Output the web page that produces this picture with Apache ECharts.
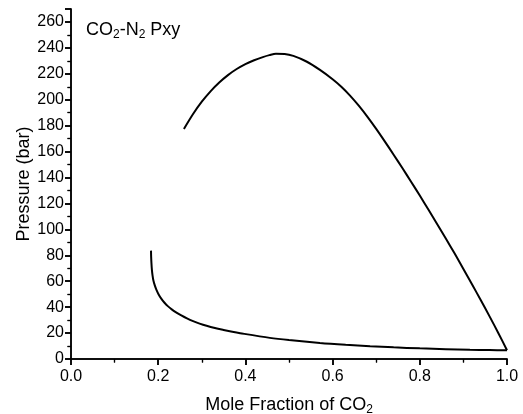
<!DOCTYPE html>
<html>
<head>
<meta charset="utf-8">
<script src="https://cdn.jsdelivr.net/npm/echarts@6/dist/echarts.min.js"></script>
<style>html,body{margin:0;padding:0;background:#fff}#c{width:523px;height:414px}</style>
</head>
<body>
<div id="c"></div>
<script>
// Dew curve (lower)
var dewX = [0.1835, 0.1838, 0.1845, 0.1855, 0.187, 0.189, 0.192, 0.196, 0.201, 0.207, 0.214, 0.222, 0.231, 0.241, 0.253, 0.266, 0.280, 0.295, 0.311, 0.330, 0.350, 0.370, 0.388, 0.456, 0.500, 0.571, 0.630, 0.686, 0.740, 0.800, 0.860, 0.915, 0.960, 1.0];
var dewP = [83.6, 79, 74, 69, 64.5, 60.5, 57, 53.3, 49.8, 46.6, 43.6, 40.8, 38.3, 36.0, 33.6, 31.3, 29.2, 27.3, 25.6, 23.9, 22.4, 21.0, 19.9, 16.3, 14.6, 12.4, 11.0, 9.9, 9.0, 8.2, 7.6, 7.1, 6.9, 6.7];
// Bubble curve (upper)
var bubX = [0.259, 0.28, 0.30, 0.32, 0.34, 0.36, 0.38, 0.40, 0.42, 0.44, 0.455, 0.47, 0.49, 0.51, 0.54, 0.571, 0.60, 0.62, 0.64, 0.66, 0.68, 0.70, 0.72, 0.74, 0.76, 0.78, 0.80, 0.82, 0.84, 0.86, 0.88, 0.90, 0.92, 0.94, 0.96, 0.98, 1.0];
var bubP = [177.5, 189, 198.5, 206.5, 213.3, 219, 223.7, 227.5, 230.5, 232.9, 234.4, 235.5, 235.3, 233.8, 229.5, 223, 215.8, 210, 203.2, 195.4, 186.8, 177.5, 167.7, 157.6, 147.3, 136.8, 126.1, 115.1, 104, 92.8, 81.3, 69.5, 57.5, 45.3, 32.9, 20.1, 6.8];
var xTicks = [0.0, 0.2, 0.4, 0.6, 0.8, 1.0];
var yTicks = [0, 20, 40, 60, 80, 100, 120, 140, 160, 180, 200, 220, 240, 260];

function pairs(xs, ys) { return xs.map(function (x, i) { return [x, ys[i]]; }); }

var FONT = 'Liberation Sans, Arial, sans-serif';
var axisLine = { show: true, lineStyle: { color: '#000', width: 1.5 } };
var tick = { show: true, length: 6, lineStyle: { color: '#000', width: 1.5 } };
var minor = { show: true, splitNumber: 2, length: 3.5, lineStyle: { color: '#000', width: 1.2 } };
var subRich = { s: { fontFamily: FONT, fontSize: 12, verticalAlign: 'bottom', lineHeight: 12, color: '#000' } };

var chart = echarts.init(document.getElementById('c'));
chart.setOption({
  animation: false,
  backgroundColor: '#fff',
  title: {
    text: 'CO{s|2}-N{s|2} Pxy',
    left: 81, top: 14,
    textStyle: {
      fontFamily: FONT, fontSize: 18, fontWeight: 'normal', color: '#000', lineHeight: 22,
      rich: subRich
    }
  },
  grid: { left: 71, top: 9, right: 16, bottom: 55, containLabel: false, outerBoundsMode: 'none' },
  xAxis: [{
    type: 'value', min: 0, max: 1, interval: 0.2, position: 'bottom',
    name: 'Mole Fraction of CO{s|2}', nameLocation: 'middle', nameGap: 35, nameMoveOverlap: false,
    nameTextStyle: { fontFamily: FONT, fontSize: 18, color: '#000', lineHeight: 22, rich: subRich },
    axisLine: axisLine, axisTick: tick, minorTick: minor, splitLine: { show: false },
    axisLabel: {
      fontFamily: FONT, fontSize: 16, color: '#000', margin: 10,
      formatter: function (v) { return xTicks.indexOf(Math.round(v * 10) / 10) >= 0 ? v.toFixed(1) : ''; }
    }
  }, {
    type: 'value', min: 0, max: 1, interval: 0.2, position: 'top',
    axisLine: axisLine, axisTick: Object.assign({}, tick, { inside: true }), minorTick: minor,
    splitLine: { show: false }, axisLabel: { show: false }
  }],
  yAxis: [{
    type: 'value', min: 0, max: 270, interval: 20, position: 'left',
    name: 'Pressure (bar)', nameLocation: 'middle', nameGap: 38, nameMoveOverlap: false,
    nameTextStyle: { fontFamily: FONT, fontSize: 18, color: '#000' },
    axisLine: axisLine, axisTick: tick, minorTick: minor, splitLine: { show: false },
    axisLabel: {
      fontFamily: FONT, fontSize: 16, color: '#000', margin: 7, showMaxLabel: false,
      formatter: function (v) { return yTicks.indexOf(v) >= 0 ? String(v) : ''; }
    }
  }, {
    type: 'value', min: 0, max: 270, interval: 20, position: 'right',
    axisLine: axisLine, axisTick: Object.assign({}, tick, { inside: true }), minorTick: minor,
    splitLine: { show: false }, axisLabel: { show: false }
  }],
  series: [{
    type: 'line', data: pairs(dewX, dewP), showSymbol: false, smooth: 0.3,
    lineStyle: { color: '#000', width: 2 }, xAxisIndex: 0, yAxisIndex: 0
  }, {
    type: 'line', data: pairs(bubX, bubP), showSymbol: false, smooth: 0.3,
    lineStyle: { color: '#000', width: 2 }, xAxisIndex: 0, yAxisIndex: 0
  }]
});
</script>
</body>
</html>
